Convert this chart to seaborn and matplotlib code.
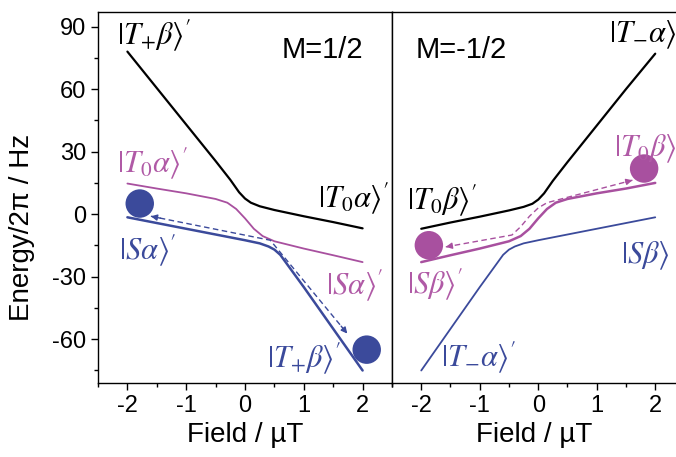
import numpy as np
import pandas as pd
import matplotlib
matplotlib.use('Agg')
import matplotlib.pyplot as plt
import seaborn as sns

# colours
BLUE = '#3b4a9b'
PINK = '#a8509f'
PINK_TXT = '#b05aa6'

# ---- M = 1/2 panel ----
left_black_x = [-2, -1.5, -1, -0.5, -0.25, -0.1, 0, 0.1, 0.25, 0.5, 1, 1.5, 2]
left_black_y = [78, 60.5, 43, 25.5, 16.5, 10.5, 7.5, 5.5, 3.8, 2, -1, -3.8, -6.8]
left_pink_x = [-2, -1.5, -1, -0.5, -0.3, -0.15, 0, 0.15, 0.3, 0.5, 1, 1.5, 2]
left_pink_y = [14.7, 12.3, 10, 7.3, 5.5, 2.5, -2, -7, -10.5, -13, -16.5, -19.7, -23]
left_blue_x = [-2, -1, 0, 0.25, 0.4, 0.5, 0.6, 1, 1.5, 2]
left_blue_y = [-1.5, -7, -12.5, -14, -15.5, -17, -19.5, -35, -55, -75]
left_dots_x = [-1.79, 2.07]
left_dots_y = [5.1, -65]
left_path_x = [-1.6, 0.43, 1.74]
left_path_y = [-1, -12.5, -57.3]

# ---- M = -1/2 panel ----
right_black_x = [-2, -1.5, -1, -0.5, -0.25, -0.1, 0, 0.1, 0.25, 0.5, 1, 1.5, 2]
right_black_y = [-7, -4, -1.2, 1.8, 3.5, 5, 7, 10, 16, 25, 42.5, 60, 77]
right_pink_x = [-2, -1.5, -1, -0.5, -0.3, -0.15, 0, 0.15, 0.3, 0.5, 1, 1.5, 2]
right_pink_y = [-23, -19.7, -16.5, -13, -10.5, -7, -2, 2.5, 5.5, 7.3, 10, 12.3, 15]
right_blue_x = [-2, -1.5, -1, -0.6, -0.5, -0.4, -0.25, 0, 1, 2]
right_blue_y = [-75, -55, -35, -19.5, -17, -15.5, -14, -12.5, -7, -1.5]
right_dots_x = [-1.87, 1.81]
right_dots_y = [-14.9, 21.9]
right_path_x = [-1.58, -0.45, -0.3, -0.15, 0.0, 0.15, 1.61]
right_path_y = [-15.7, -10, -6, -1, 3, 5.5, 16.3]

sns.set_style('ticks')
plt.rcParams['font.family'] = ['Liberation Sans', 'DejaVu Sans']
plt.rcParams['mathtext.fontset'] = 'stix'
plt.rcParams['axes.unicode_minus'] = False
plt.rcParams['text.color'] = 'black'
plt.rcParams['axes.labelcolor'] = 'black'
plt.rcParams['xtick.color'] = 'black'
plt.rcParams['ytick.color'] = 'black'

fig = plt.figure(figsize=(6.76, 4.57), dpi=100)
bot = (457 - 383) / 457
hgt = 371 / 457
ax1 = fig.add_axes([98 / 676, bot, 294 / 676, hgt])
ax2 = fig.add_axes([392 / 676, bot, 284 / 676, hgt])


def curve(ax, x, y, color, lw):
    df = pd.DataFrame({'x': x, 'y': y})
    sns.lineplot(data=df, x='x', y='y', ax=ax, color=color, lw=lw, sort=False)


def path(ax, x, y, color):
    ax.plot(x, y, ls=(0, (4, 2.5)), color=color, lw=1.0)
    for i0, i1 in [(1, 0), (-2, -1)]:
        x0, y0, x1, y1 = x[i0], y[i0], x[i1], y[i1]
        ax.annotate('', xy=(x1, y1), xytext=(x1 + (x0 - x1) * 0.08, y1 + (y0 - y1) * 0.08),
                    arrowprops=dict(arrowstyle='-|>', color=color, lw=1.0,
                                    mutation_scale=9, shrinkA=0, shrinkB=0))


curve(ax1, left_black_x, left_black_y, 'black', 1.6)
curve(ax1, left_pink_x, left_pink_y, PINK, 1.3)
curve(ax1, left_blue_x, left_blue_y, BLUE, 1.8)
path(ax1, left_path_x, left_path_y, BLUE)
sns.scatterplot(x=left_dots_x, y=left_dots_y, ax=ax1, s=420, color=BLUE, edgecolor='none', zorder=5)

curve(ax2, right_black_x, right_black_y, 'black', 1.6)
curve(ax2, right_pink_x, right_pink_y, PINK, 1.8)
curve(ax2, right_blue_x, right_blue_y, BLUE, 1.3)
path(ax2, right_path_x, right_path_y, PINK)
sns.scatterplot(x=right_dots_x, y=right_dots_y, ax=ax2, s=420, color=PINK, edgecolor='none', zorder=5)

fs = 22
kw = dict(fontsize=fs, va='center', zorder=6)
ax1.text(-2.17, 86, r"$|T_{+}\beta\rangle'$", color='black', **kw)
ax1.text(1.32, 78.7, 'M=1/2', fontsize=21, ha='center', va='center')
ax1.text(-2.17, 24.5, r"$|T_{0}\alpha\rangle'$", color=PINK_TXT, **kw)
ax1.text(1.25, 7.7, r"$|T_{0}\alpha\rangle'$", color='black', **kw)
ax1.text(-2.15, -17.3, r"$|S\alpha\rangle'$", color=BLUE, **kw)
ax1.text(1.37, -34, r"$|S\alpha\rangle'$", color=PINK_TXT, **kw)
ax1.text(0.37, -69, r"$|T_{+}\beta\rangle'$", color=BLUE, **kw)

ax2.text(-1.32, 78.7, 'M=-1/2', fontsize=21, ha='center', va='center')
ax2.text(1.21, 86, r"$|T_{-}\alpha\rangle$", color='black', **kw)
ax2.text(1.3, 31.5, r"$|T_{0}\beta\rangle$", color=PINK_TXT, **kw)
ax2.text(-2.24, 6.7, r"$|T_{0}\beta\rangle'$", color='black', **kw)
ax2.text(-2.24, -33.6, r"$|S\beta\rangle'$", color=PINK_TXT, **kw)
ax2.text(1.42, -20, r"$|S\beta\rangle$", color=BLUE, **kw)
ax2.text(-1.66, -68.7, r"$|T_{-}\alpha\rangle'$", color=BLUE, **kw)

for ax in (ax1, ax2):
    ax.set_ylim(-81, 97)
    ax.set_xticks([-2, -1, 0, 1, 2])
    ax.set_xticks(np.arange(-2.5, 2.6, 0.5), minor=True)
    ax.set_yticks([-60, -30, 0, 30, 60, 90])
    ax.set_yticks(np.arange(-75, 96, 15), minor=True)
    ax.tick_params(which='major', direction='out', length=5, width=1, labelsize=17,
                   color='black', labelcolor='black')
    ax.tick_params(which='minor', direction='out', length=3, width=1, color='black')
    ax.set_xlabel('Field / µT', fontsize=20)
    for sp in ax.spines.values():
        sp.set_color('black')
        sp.set_linewidth(1.0)

ax1.set_xlim(-2.5, 2.5)
ax2.set_xlim(-2.5, 2.355)
ax1.set_ylabel('Energy/2π / Hz', fontsize=20)
ax1.yaxis.set_label_coords(-0.215, 0.42)
ax1.tick_params(axis='y', which='both', right=False)
ax2.tick_params(axis='y', which='both', left=False, labelleft=False)
ax2.set_ylabel('')
ax2.spines['right'].set_visible(False)

fig.savefig('out.png', dpi=100)
